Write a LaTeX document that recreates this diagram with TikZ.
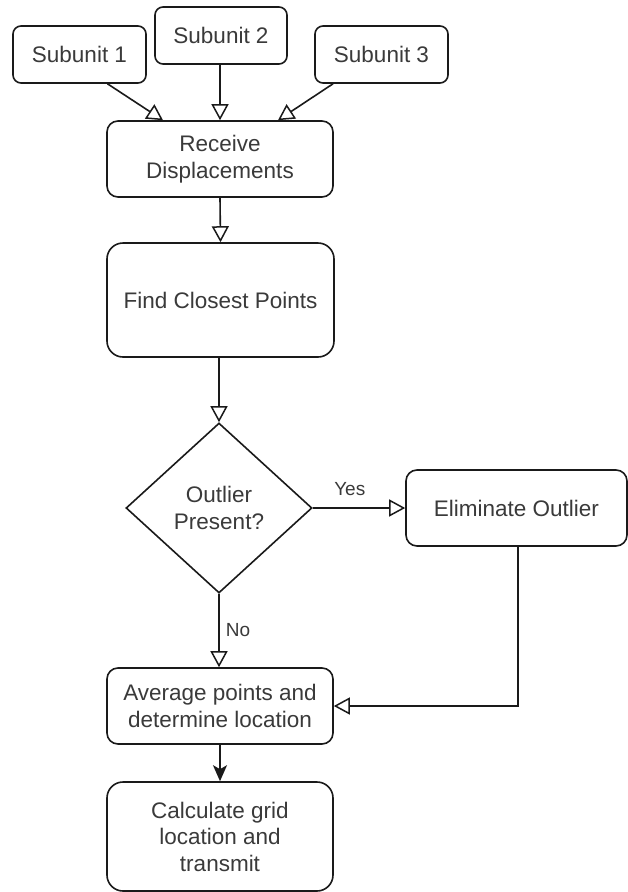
\documentclass[tikz,border=0pt]{standalone}
\usepackage{fontspec}
\setmainfont{Liberation Sans}
\usetikzlibrary{arrows.meta,shapes.geometric,calc}
\definecolor{ink}{HTML}{1A1A1A}
\definecolor{txt}{HTML}{3A3A3A}
\begin{document}
\begin{tikzpicture}[x=1pt,y=-1pt,
  every node/.style={font=\fontsize{22.5}{26.5}\selectfont, text=txt, align=center, inner sep=0pt},
  box/.style={draw=ink, line width=1.6pt, rounded corners=#1, fill=white},
  box/.default=10pt,
  flow/.style={draw=ink, line width=1.6pt, -{Triangle[open,length=16pt,width=17pt,line width=1.5pt]}},
  solidflow/.style={draw=ink, line width=1.6pt, -{Stealth[length=16pt,width=14pt,inset=4pt]}},
  lbl/.style={font=\fontsize{19}{23}\selectfont}]
\useasboundingbox (0,0) rectangle (628,892);
\fill[white] (0,0) rectangle (628,892);

% source units
\node[box=8pt, minimum width=133pt, minimum height=57pt] (s1) at (79.5,54.5) {Subunit 1};
\node[box=8pt, minimum width=132pt, minimum height=57pt] (s2) at (221,35.5) {Subunit 2};
\node[box=8pt, minimum width=133pt, minimum height=57pt] (s3) at (381.5,54.5) {Subunit 3};

% processing steps
\node[box=11pt, minimum width=226pt, minimum height=76pt] (rd) at (220,159) {Receive\\Displacements};
\node[box=16pt, minimum width=227pt, minimum height=114pt] (fc) at (220.5,300) {Find Closest Points};
\node[draw=ink, line width=1.6pt, shape=diamond, aspect=1.094, minimum width=186pt, minimum height=170pt, fill=white] (op) at (219,508) {Outlier\\Present?};
\node[box=11pt, minimum width=221pt, minimum height=76pt] (eo) at (516.5,508) {Eliminate Outlier};
\node[box=11pt, minimum width=226pt, minimum height=76pt] (av) at (220,706) {Average points and\\determine location};
\node[box=16pt, minimum width=226pt, minimum height=109pt] (cg) at (220,836.5) {Calculate grid\\location and\\transmit};

% connectors
\draw[flow] ([xshift=28pt]s1.south) -- ([xshift=-57pt]rd.north);
\draw[flow] ([xshift=-1pt]s2.south) -- (rd.north);
\draw[flow] ([xshift=-48.5pt]s3.south) -- ([xshift=58pt]rd.north);
\draw[flow] (rd.south) -- (fc.north);
\draw[flow] (fc.south -| op.north) -- (op.north);
\draw[flow] (op.east) -- node[lbl, above=12pt, pos=0.4] (yes) {Yes} (eo.west);
\draw[flow] (op.south) -- node[lbl, right=6pt, pos=0.5] (no) {No} (av.north -| op.south);
\draw[flow] ([xshift=1.5pt]eo.south) |- (av.east);
\draw[solidflow] (av.south) -- (cg.north);
\end{tikzpicture}
\end{document}
